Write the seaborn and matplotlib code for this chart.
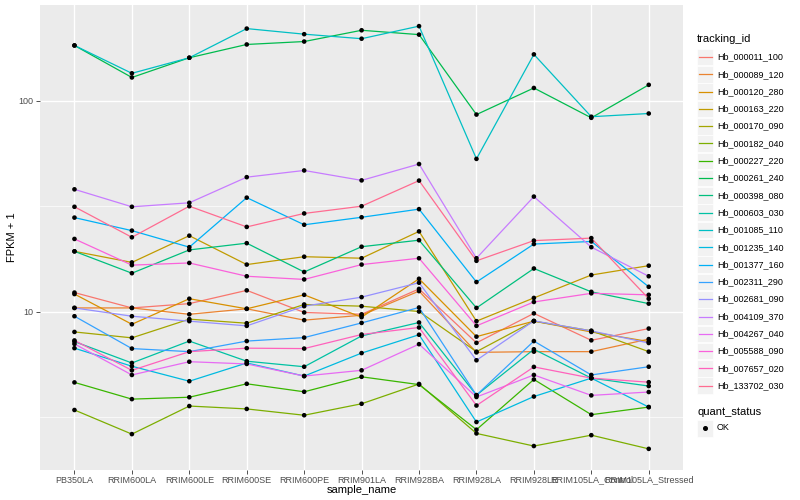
import matplotlib
matplotlib.use("Agg")
import matplotlib.pyplot as plt
from matplotlib.patches import Rectangle
from matplotlib.lines import Line2D
import numpy as np
import pandas as pd
import seaborn as sns

samples = ["PB350LA", "RRIM600LA", "RRIM600LE", "RRIM600SE", "RRIM600PE", "RRIM901LA",
           "RRIM928BA", "RRIM928LA", "RRIM928LE", "RRIM105LA_Control", "RRIM105LA_Stressed"]

tracking_ids = ["Hb_000011_100", "Hb_000089_120", "Hb_000120_280", "Hb_000163_220",
                "Hb_000170_090", "Hb_000182_040", "Hb_000227_220", "Hb_000261_240",
                "Hb_000398_080", "Hb_000603_030", "Hb_001085_110", "Hb_001235_140",
                "Hb_001377_160", "Hb_002311_290", "Hb_002681_090", "Hb_004109_370",
                "Hb_004267_040", "Hb_005588_090", "Hb_007657_020", "Hb_133702_030"]

# FPKM + 1, one list per gene, in sample order
hb_000011_100 = [12.3, 10.4, 10.9, 12.6, 9.9, 9.7, 12.8, 7.1, 9.8, 7.3, 8.3]
hb_000089_120 = [10.4, 10.4, 9.7, 10.3, 9.1, 9.6, 12.5, 6.4, 6.45, 6.45, 7.4]
hb_000120_280 = [12.1, 8.7, 11.5, 10.3, 12.0, 9.4, 14.3, 7.6, 9.0, 8.0, 7.2]
hb_000163_220 = [19.3, 17.1, 22.9, 16.7, 18.2, 17.9, 24.0, 9.0, 11.6, 14.9, 16.5]
hb_000170_090 = [8.0, 7.5, 9.2, 8.8, 10.8, 10.6, 10.0, 6.45, 9.0, 8.1, 6.45]
hb_000182_040 = [3.41, 2.62, 3.56, 3.45, 3.22, 3.65, 4.53, 2.64, 2.30, 2.59, 2.23]
hb_000227_220 = [4.61, 3.84, 3.92, 4.54, 4.16, 4.90, 4.50, 2.75, 4.76, 3.24, 3.52]
hb_000261_240 = [183, 129, 160, 185, 191, 216, 206, 86, 115, 83, 119]
hb_000398_080 = [19.3, 15.2, 19.6, 21.1, 15.4, 20.3, 21.8, 10.4, 16.0, 12.4, 10.9]
hb_000603_030 = [7.2, 5.7, 7.24, 5.81, 5.47, 7.66, 8.87, 4.01, 6.62, 4.83, 4.43]
hb_001085_110 = [183, 135, 160, 220, 207, 197, 226, 53, 166, 84, 87]
hb_001235_140 = [6.7, 5.5, 4.67, 5.7, 4.94, 6.35, 7.76, 2.99, 3.95, 4.83, 3.52]
hb_001377_160 = [27.9, 24.2, 20.2, 34.7, 25.8, 28.0, 30.6, 13.8, 20.9, 21.5, 13.1]
hb_002311_290 = [9.5, 6.67, 6.45, 7.24, 7.52, 8.83, 10.45, 4.01, 7.24, 5.0, 5.47]
hb_002681_090 = [10.4, 9.5, 9.0, 8.55, 10.6, 11.7, 13.7, 5.87, 9.03, 8.09, 7.09]
hb_004109_370 = [38.0, 31.4, 32.8, 43.4, 46.7, 41.9, 50.1, 17.9, 35.1, 20.2, 14.7]
hb_004267_040 = [7.02, 5.0, 5.78, 5.64, 4.94, 5.26, 7.0, 3.93, 5.0, 4.0, 4.15]
hb_005588_090 = [22.1, 16.6, 17.0, 14.7, 14.2, 16.7, 17.9, 8.55, 11.1, 12.2, 12.0]
hb_007657_020 = [7.29, 5.26, 6.45, 6.7, 6.67, 7.78, 8.4, 3.58, 5.46, 4.83, 4.62]
hb_133702_030 = [31.4, 22.5, 31.6, 25.2, 29.2, 31.6, 41.8, 17.4, 21.7, 22.3, 11.5]

values = [hb_000011_100, hb_000089_120, hb_000120_280, hb_000163_220, hb_000170_090,
          hb_000182_040, hb_000227_220, hb_000261_240, hb_000398_080, hb_000603_030,
          hb_001085_110, hb_001235_140, hb_001377_160, hb_002311_290, hb_002681_090,
          hb_004109_370, hb_004267_040, hb_005588_090, hb_007657_020, hb_133702_030]

palette = ["#F8766D", "#EA8331", "#D89000", "#C09B00", "#A3A500", "#7CAE00", "#39B600",
           "#00BB4E", "#00BF7D", "#00C1A3", "#00BFC4", "#00BAE0", "#00B0F6", "#35A2FF",
           "#9590FF", "#C77CFF", "#E76BF3", "#FA62DB", "#FF62BC", "#FF6C91"]

rows = []
for tid, vals in zip(tracking_ids, values):
    for s, v in zip(samples, vals):
        rows.append({"tracking_id": tid, "sample_name": s, "fpkm1": v, "quant_status": "OK"})
df = pd.DataFrame(rows)

plt.rcParams['font.family'] = ['Liberation Sans', 'DejaVu Sans']

fig = plt.figure(figsize=(8, 5), dpi=100)
ax = fig.add_axes([0.05, 0.06, 0.804, 0.93])
ax.set_facecolor("#EBEBEB")

sns.lineplot(data=df, x="sample_name", y="fpkm1", hue="tracking_id", hue_order=tracking_ids,
             palette=palette, sort=False, linewidth=0.9, legend=False, ax=ax, zorder=3)
sns.scatterplot(data=df, x="sample_name", y="fpkm1", color="black", marker="o", s=11,
                edgecolor="none", legend=False, ax=ax, zorder=4)

ax.set_yscale("log")
ax.set_yticks([10, 100])
ax.set_yticklabels(["10", "100"])
ax.set_yticks([10 ** 0.5, 10 ** 1.5], minor=True)
ax.yaxis.set_minor_formatter(matplotlib.ticker.NullFormatter())

# ggplot-like 5% expansion in log space
lo, hi = np.log10(df["fpkm1"].min()), np.log10(df["fpkm1"].max())
pad = (hi - lo) * 0.05
ax.set_ylim(10 ** (lo - pad), 10 ** (hi + pad))
ax.set_xlim(-0.6, len(samples) - 0.4)

ax.tick_params(axis="y", which="minor", length=0)
ax.tick_params(axis="both", which="major", length=3, width=0.6, color="#333333",
               labelsize=6.5, labelcolor="#4D4D4D")
ax.tick_params(axis="x", pad=1)
ax.tick_params(axis="y", pad=2)

ax.grid(which="major", color="white", linewidth=1.0)
ax.grid(which="minor", axis="y", color="white", linewidth=0.5)
ax.set_axisbelow(True)
for sp in ax.spines.values():
    sp.set_visible(False)

ax.set_xlabel("sample_name", fontsize=8, labelpad=0.5)
ax.set_ylabel("FPKM + 1", fontsize=8, labelpad=0.5)

# legend drawn ggplot-style
def fx(px):
    return px / 800.0

def fy(py):
    return 1 - py / 500.0

fig.text(fx(697), fy(39), "tracking_id", fontsize=8, va="center", ha="left")
for i, (tid, col) in enumerate(zip(tracking_ids, palette)):
    yc = 57 + i * 17.3
    fig.add_artist(Rectangle((fx(697), fy(yc + 8.3)), 16 / 800, 16.6 / 500,
                             transform=fig.transFigure, facecolor="#F2F2F2",
                             edgecolor="white", linewidth=0.5))
    fig.add_artist(Line2D([fx(698.5), fx(711.5)], [fy(yc), fy(yc)], color=col,
                          linewidth=0.9, transform=fig.transFigure))
    fig.text(fx(717), fy(yc), tid, fontsize=6.5, va="center", ha="left")

fig.text(fx(697), fy(412), "quant_status", fontsize=8, va="center", ha="left")
fig.add_artist(Rectangle((fx(697), fy(436.5)), 16 / 800, 16.6 / 500,
                         transform=fig.transFigure, facecolor="#F2F2F2",
                         edgecolor="white", linewidth=0.5))
fig.add_artist(Line2D([fx(705)], [fy(428)], marker="o", markersize=2.6, color="black",
                      linestyle="none", transform=fig.transFigure))
fig.text(fx(717), fy(428), "OK", fontsize=6.5, va="center", ha="left")

fig.savefig("out.png", dpi=100)
